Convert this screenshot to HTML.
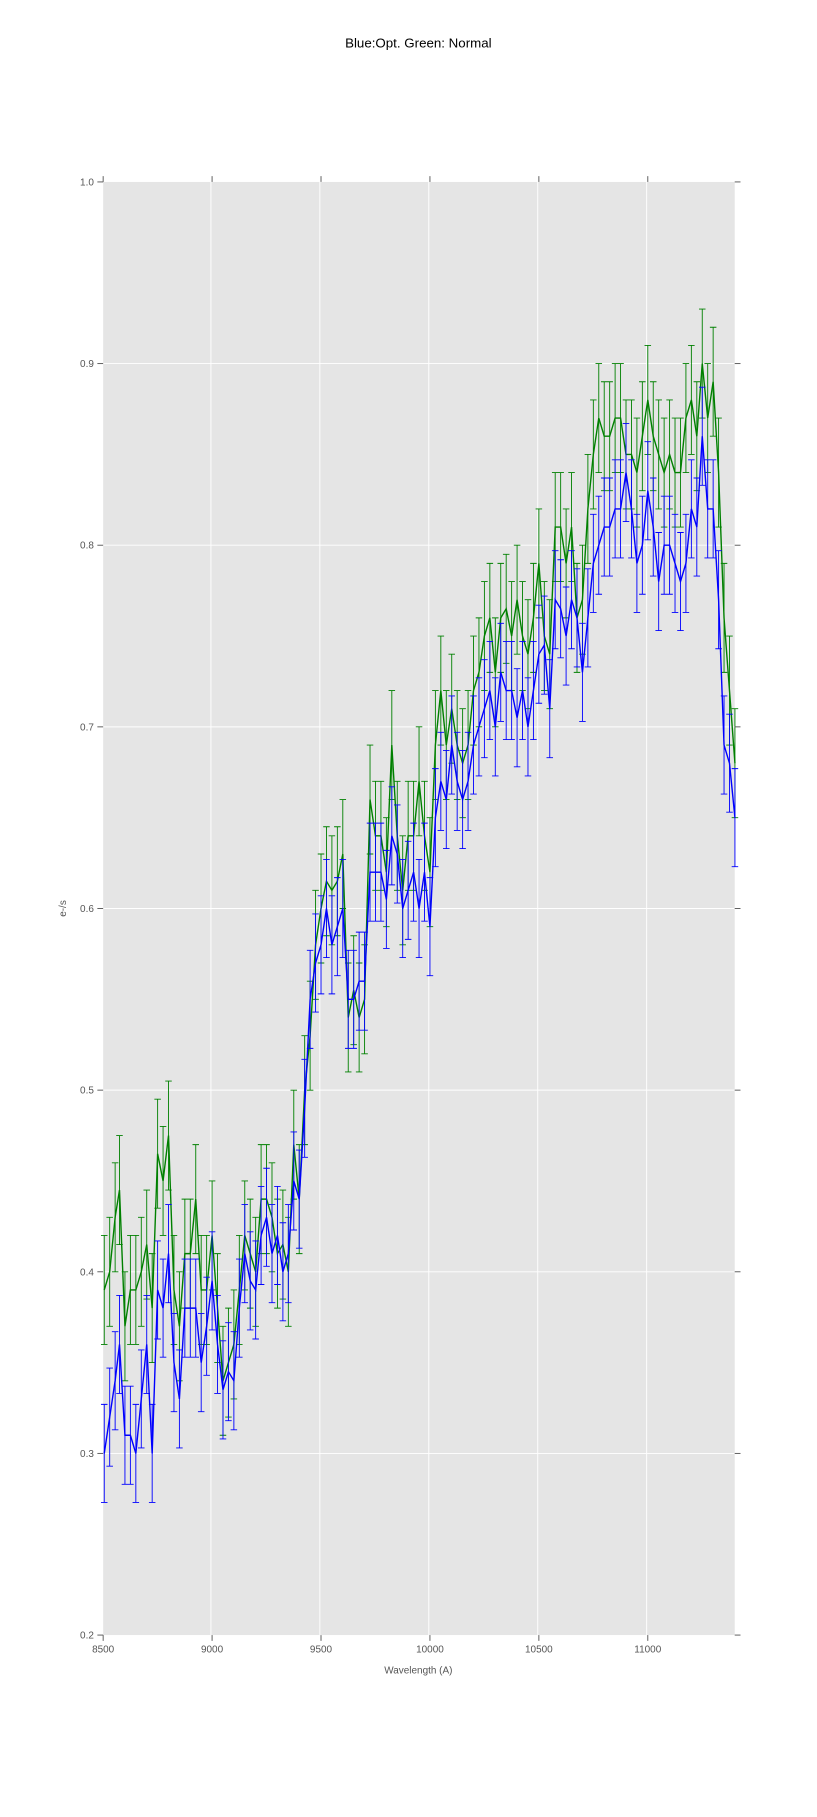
<!DOCTYPE html>
<html><head><meta charset="utf-8"><style>html,body{margin:0;padding:0;background:#fff}svg{display:block}</style></head>
<body>
<svg id="s" width="817" height="1817" viewBox="0 0 705 1568" xmlns="http://www.w3.org/2000/svg" font-family="Liberation Sans, sans-serif">
<rect x="0" y="0" width="705" height="1568" fill="#fff"/>
<text x="361" y="41" font-size="11.5" text-anchor="middle" fill="#000">Blue:Opt. Green: Normal</text>
<rect x="89" y="157" width="545" height="1254" fill="#e5e5e5"/>
<g stroke="#fff" stroke-width="0.8">
<line x1="182" y1="157" x2="182" y2="1411"/><line x1="276" y1="157" x2="276" y2="1411"/><line x1="370" y1="157" x2="370" y2="1411"/><line x1="464" y1="157" x2="464" y2="1411"/><line x1="558" y1="157" x2="558" y2="1411"/>
<line x1="89" y1="313.75" x2="634" y2="313.75"/><line x1="89" y1="470.5" x2="634" y2="470.5"/><line x1="89" y1="627.25" x2="634" y2="627.25"/><line x1="89" y1="784" x2="634" y2="784"/><line x1="89" y1="940.75" x2="634" y2="940.75"/><line x1="89" y1="1097.5" x2="634" y2="1097.5"/><line x1="89" y1="1254.25" x2="634" y2="1254.25"/>
</g>
<g id="data" transform="translate(-1509,1724.5) scale(0.188,-1567.5)"></g>
<g stroke="#555" stroke-width="0.8" id="ticks"></g>
<g font-size="8.6" fill="#555" id="labels"></g>
<text x="361" y="1444" font-size="8.6" fill="#555" text-anchor="middle">Wavelength (A)</text>
<text x="57" y="784" font-size="8.6" fill="#555" text-anchor="middle" transform="rotate(-90 57 784)">e-/s</text>
</svg>
<script>
var B=[8505,.30,8530,.32,8555,.34,8575,.36,8600,.31,8625,.31,8650,.30,8675,.33,8700,.36,8725,.30,8750,.39,8775,.38,8800,.41,8825,.35,8850,.33,8875,.38,8900,.38,8925,.38,8950,.35,8975,.37,9000,.395,9025,.36,9050,.335,9075,.345,9100,.34,9125,.38,9150,.41,9175,.395,9200,.39,9225,.42,9250,.43,9275,.41,9300,.42,9325,.40,9350,.41,9375,.45,9400,.44,9425,.49,9450,.55,9475,.57,9500,.58,9525,.60,9550,.58,9575,.59,9600,.60,9625,.55,9650,.55,9675,.56,9700,.56,9725,.62,9750,.62,9775,.62,9800,.605,9825,.64,9850,.63,9875,.60,9900,.61,9925,.62,9950,.60,9975,.62,10000,.59,10025,.65,10050,.67,10075,.66,10100,.69,10125,.67,10150,.66,10175,.67,10200,.69,10225,.70,10250,.71,10275,.72,10300,.70,10325,.73,10350,.72,10375,.72,10400,.705,10425,.72,10450,.70,10475,.72,10500,.74,10525,.745,10550,.71,10575,.77,10600,.765,10625,.75,10650,.77,10675,.76,10700,.73,10725,.76,10750,.79,10775,.80,10800,.81,10825,.81,10850,.82,10875,.82,10900,.84,10925,.82,10950,.79,10975,.80,11000,.83,11025,.81,11050,.78,11075,.80,11100,.80,11125,.79,11150,.78,11175,.79,11200,.82,11225,.81,11250,.86,11275,.82,11300,.82,11325,.77,11350,.69,11375,.68,11400,.65];
var G=[8505,.39,8530,.40,8555,.43,8575,.445,8600,.37,8625,.39,8650,.39,8675,.40,8700,.415,8725,.38,8750,.465,8775,.45,8800,.475,8825,.39,8850,.37,8875,.41,8900,.41,8925,.44,8950,.39,8975,.39,9000,.42,9025,.38,9050,.34,9075,.35,9100,.36,9125,.39,9150,.42,9175,.41,9200,.40,9225,.44,9250,.44,9275,.43,9300,.41,9325,.415,9350,.40,9375,.47,9400,.44,9425,.50,9450,.53,9475,.58,9500,.60,9525,.615,9550,.61,9575,.615,9600,.63,9625,.54,9650,.555,9675,.54,9700,.55,9725,.66,9750,.64,9775,.64,9800,.62,9825,.69,9850,.64,9875,.61,9900,.64,9925,.64,9950,.67,9975,.64,10000,.62,10025,.69,10050,.72,10075,.69,10100,.71,10125,.69,10150,.68,10175,.69,10200,.72,10225,.73,10250,.75,10275,.76,10300,.73,10325,.76,10350,.765,10375,.75,10400,.77,10425,.75,10450,.74,10475,.76,10500,.79,10525,.75,10550,.74,10575,.81,10600,.81,10625,.79,10650,.81,10675,.76,10700,.77,10725,.82,10750,.85,10775,.87,10800,.86,10825,.86,10850,.87,10875,.87,10900,.85,10925,.85,10950,.84,10975,.86,11000,.88,11025,.86,11050,.85,11075,.84,11100,.85,11125,.84,11150,.84,11175,.87,11200,.88,11225,.86,11250,.90,11275,.87,11300,.89,11325,.84,11350,.76,11375,.72,11400,.68];
var NS="http://www.w3.org/2000/svg",g=document.getElementById('data');
function series(a,col,e){var line="",eb="";for(var i=0;i<a.length;i+=2){var x=a[i],y=a[i+1];line+=(i?"L":"M")+x+" "+y;var lo=y-e,hi=y+e;eb+="M"+x+" "+lo+"V"+hi+"M"+(x-15)+" "+lo+"H"+(x+15)+"M"+(x-15)+" "+hi+"H"+(x+15);}
[[eb,0.9],[line,1.4]].forEach(function(p){var el=document.createElementNS(NS,'path');el.setAttribute('d',p[0]);el.setAttribute('fill','none');el.setAttribute('stroke',col);el.setAttribute('stroke-width',p[1]);el.setAttribute('vector-effect','non-scaling-stroke');g.appendChild(el);});}
series(G,'#008000',0.03);series(B,'#0000ff',0.027);
var t=document.getElementById('ticks'),l=document.getElementById('labels');
function ln(x1,y1,x2,y2){var e=document.createElementNS(NS,'line');e.setAttribute('x1',x1);e.setAttribute('y1',y1);e.setAttribute('x2',x2);e.setAttribute('y2',y2);t.appendChild(e);}
function tx(x,y,s,a){var e=document.createElementNS(NS,'text');e.setAttribute('x',x);e.setAttribute('y',y);e.setAttribute('text-anchor',a);e.textContent=s;l.appendChild(e);}
[8500,9000,9500,10000,10500,11000].forEach(function(w){var x=89+(w-8500)*0.188;ln(x,157,x,152);ln(x,1411,x,1416);tx(x,1426,w,'middle');});
for(var k=2;k<=10;k++){var v=k/10,y=1724.5-1567.5*v;ln(89,y,84,y);ln(634,y,639,y);tx(81,y+3,v.toFixed(1),'end');}
</script>
</body></html>
